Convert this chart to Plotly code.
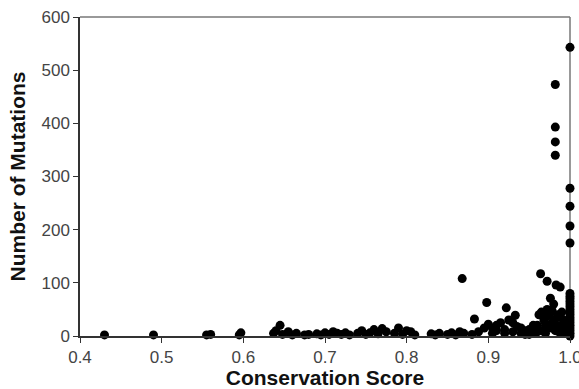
import plotly.graph_objects as go

# Low-count points (conservation score, number of mutations)
low_x = [0.43, 0.49, 0.555, 0.56, 0.595, 0.597,
         0.637, 0.64, 0.645, 0.648, 0.655, 0.66, 0.665,
         0.675, 0.68, 0.69, 0.695, 0.70, 0.705, 0.71, 0.715, 0.72, 0.725, 0.73,
         0.74, 0.745, 0.75, 0.755, 0.76, 0.765, 0.77, 0.775,
         0.785, 0.79, 0.795, 0.80, 0.805, 0.81,
         0.83, 0.835, 0.84, 0.85, 0.855, 0.86, 0.865, 0.87,
         0.88, 0.883, 0.888, 0.895, 0.898, 0.90, 0.905, 0.91, 0.915, 0.92, 0.922,
         0.925, 0.93, 0.933, 0.935, 0.94, 0.945, 0.95, 0.955,
         0.96, 0.962, 0.965, 0.968, 0.97, 0.972, 0.975, 0.976, 0.978, 0.98,
         0.982, 0.985, 0.988, 0.99, 0.993,
         0.965, 0.97, 0.975, 0.978, 0.98, 0.983, 0.986, 0.99, 0.992, 0.995,
         0.97, 0.96, 0.905, 0.91, 0.92, 0.93, 0.94, 0.95, 0.955, 0.945]
low_y = [2, 2, 2, 3, 2, 6,
         5, 10, 20, 3, 8, 2, 5,
         2, 3, 4, 2, 6, 3, 8, 5, 3, 6, 2,
         5, 10, 3, 6, 12, 4, 14, 8,
         5, 15, 3, 10, 8, 2,
         4, 2, 5, 3, 6, 2, 8, 5,
         3, 32, 8, 15, 63, 22, 5, 10, 25, 12, 53,
         30, 8, 39, 18, 5, 10, 3, 6,
         20, 40, 10, 30, 5, 50, 15, 71, 25, 60,
         10, 40, 5, 20, 8,
         45, 35, 40, 48, 30, 20, 35, 45, 30, 15,
         20, 8, 15, 20, 5, 25, 15, 12, 20, 3]

# Column of points at score 1.0
edge_x = [1.0] * 17
edge_y = [0, 5, 10, 15, 20, 25, 30, 35, 40, 45, 50, 55, 60, 65, 70, 75, 80]

# High-count points
high_x = [0.868, 0.964, 0.972, 0.983, 0.988, 1.0, 1.0, 1.0, 1.0,
          0.982, 0.982, 0.982, 0.982, 1.0]
high_y = [108, 117, 103, 96, 92, 175, 207, 244, 278,
          340, 365, 393, 473, 543]

xs = low_x + edge_x + high_x
ys = low_y + edge_y + high_y

x_ticks = [0.4, 0.5, 0.6, 0.7, 0.8, 0.9, 1.0]
x_labels = ["0.4", "0.5", "0.6", "0.7", "0.8", "0.9", "1.0"]
y_ticks = [0, 100, 200, 300, 400, 500, 600]

fig = go.Figure(go.Scatter(
    x=xs, y=ys, mode="markers",
    marker=dict(color="black", size=9, line=dict(width=0)),
    cliponaxis=False,
))

font_fam = "Liberation Sans, Arial, sans-serif"
fig.update_layout(
    width=579, height=389,
    margin=dict(l=80, r=9, t=17, b=53),
    paper_bgcolor="white", plot_bgcolor="white",
    showlegend=False,
    font=dict(family=font_fam, color="#333333", size=17),
    shapes=[
        # lighter top and right frame lines
        dict(type="line", xref="paper", yref="paper", x0=0, x1=1, y0=1, y1=1,
             line=dict(color="#777777", width=1.5), layer="below"),
        dict(type="line", xref="paper", yref="paper", x0=1, x1=1, y0=0, y1=1,
             line=dict(color="#777777", width=1.5), layer="below"),
    ],
)
fig.update_xaxes(
    range=[0.4, 1.0], tickvals=x_ticks, ticktext=x_labels,
    automargin=False, ticklabeloverflow="allow",
    showgrid=False, zeroline=False,
    showline=True, linecolor="#333333", linewidth=1.5,
    ticks="outside", ticklen=5, tickcolor="#333333",
    tickfont=dict(size=17, color="#444444"),
    title=dict(text="<b>Conservation Score</b>", font=dict(size=21, color="#111111"), standoff=4),
)
fig.update_yaxes(
    range=[0, 600], tickvals=y_ticks,
    automargin=False, ticklabeloverflow="allow",
    showgrid=False, zeroline=False,
    showline=True, linecolor="#333333", linewidth=1.5,
    ticks="outside", ticklen=5, tickcolor="#333333",
    tickfont=dict(size=17, color="#444444"),
    title=dict(text="<b>Number of Mutations</b>", font=dict(size=21, color="#111111"), standoff=10),
)

fig.write_html(
    "out.html",
    config={"displayModeBar": False},
    post_script="document.body.style.margin='0';document.body.style.overflow='hidden';",
)
